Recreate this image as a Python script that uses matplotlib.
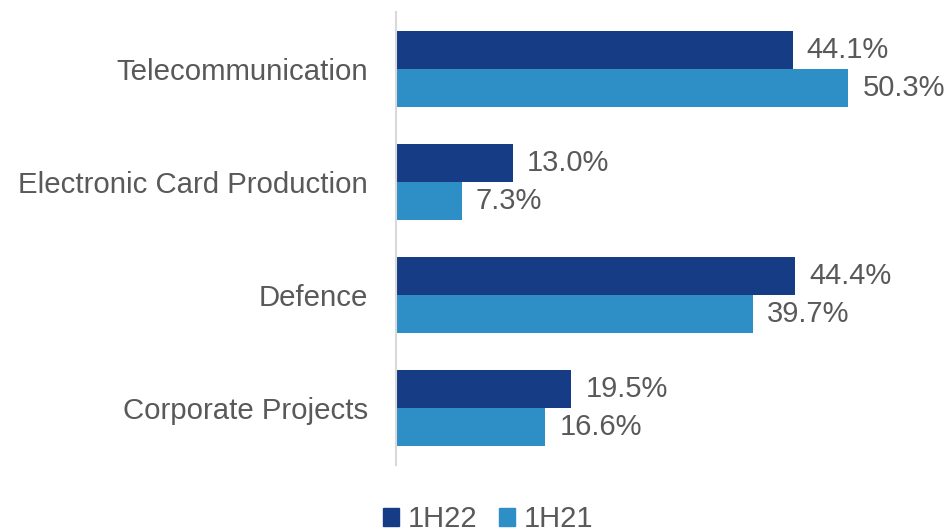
import matplotlib.pyplot as plt
from matplotlib.patches import Patch

# Segment share of revenue, first half of each year
categories = ["Telecommunication", "Electronic Card Production", "Defence", "Corporate Projects"]
share_1h22 = [44.1, 13.0, 44.4, 19.5]
share_1h21 = [50.3, 7.3, 39.7, 16.6]
series_names = ["1H22", "1H21"]

dark_blue = "#163C85"
light_blue = "#2E8EC6"
text_grey = "#595959"

plt.rcParams['font.family'] = ['Liberation Sans', 'DejaVu Sans']

fig = plt.figure(figsize=(9.49, 5.29), dpi=100)
ax = fig.add_axes([396 / 949, 1 - 465 / 529, 1 - 396 / 949, 453 / 529])

bar_h = 0.336
pos = list(range(len(categories)))
dark_pos = [p - bar_h / 2 for p in pos]
light_pos = [p + bar_h / 2 for p in pos]

bars_a = ax.barh(dark_pos, share_1h22, height=bar_h, color=dark_blue)
bars_b = ax.barh(light_pos, share_1h21, height=bar_h, color=light_blue)

# value labels to the right of each bar
for bars, vals in [(bars_a, share_1h22), (bars_b, share_1h21)]:
    for b, v in zip(bars, vals):
        ax.annotate(f"{v:.1f}%", xy=(v, b.get_y() + b.get_height() / 2),
                    xytext=(14, 0), textcoords='offset pixels',
                    ha='left', va='center', fontsize=21, color=text_grey)

ax.set_xlim(0, 61.5)
ax.set_ylim(3.5, -0.5)
ax.set_yticks(pos)
ax.set_yticklabels(categories, fontsize=21.2, color=text_grey)
ax.tick_params(axis='y', length=0, pad=20)
ax.set_xticks([])

for side in ['top', 'right', 'bottom']:
    ax.spines[side].set_visible(False)
ax.spines['left'].set_color('#D9D9D9')
ax.spines['left'].set_linewidth(1.5)

handles = [Patch(color=dark_blue), Patch(color=light_blue)]
fig.legend(handles, series_names, loc='center', bbox_to_anchor=(488 / 949, 0.018),
           ncol=2, frameon=False, fontsize=21, labelcolor=text_grey,
           handlelength=0.55, handleheight=0.55, handletextpad=0.3, columnspacing=0.75)

fig.savefig("out.png", dpi=100)
